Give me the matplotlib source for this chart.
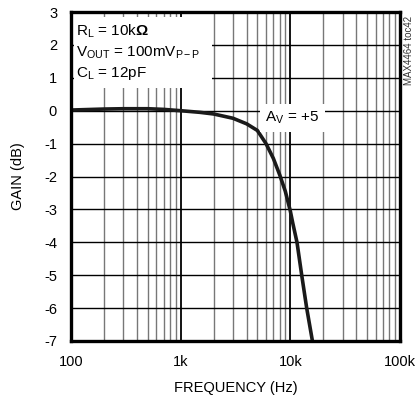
import matplotlib
matplotlib.use("Agg")
import matplotlib.pyplot as plt
import numpy as np

FONT = "Liberation Sans"
plt.rcParams['font.family'] = [FONT, 'DejaVu Sans']
plt.rcParams['mathtext.fontset'] = 'custom'
plt.rcParams['mathtext.rm'] = FONT
plt.rcParams['mathtext.it'] = FONT
plt.rcParams['mathtext.bf'] = FONT + ':bold'
plt.rcParams['axes.unicode_minus'] = False

freq = [100, 200, 300, 500, 700, 1000, 1500, 2000, 3000, 4000, 5000, 6000, 7000, 8000, 9000, 10000, 10500, 11500, 12700, 14100, 15900]
gain = [0.02, 0.05, 0.06, 0.06, 0.04, 0.0, -0.05, -0.1, -0.23, -0.4, -0.6, -1.0, -1.45, -1.95, -2.45, -3.05, -3.4, -4.0, -5.0, -6.0, -7.0]

xticks = [100, 1000, 10000, 100000]
xticklabels = ["100", "1k", "10k", "100k"]
yticks = list(range(-7, 4))

fig = plt.figure(figsize=(4.16, 4.01), dpi=100)
ax = fig.add_axes([71/416, 1-341/401, 329/416, 329/401])
ax.set_xscale('log')
ax.set_xlim(100, 100000)
ax.set_ylim(-7, 3)

# grid
for dec in [100, 1000, 10000]:
    for m in range(2, 10):
        ax.axvline(dec*m, color='#777777', lw=1.0, zorder=1)
for x in [1000, 10000]:
    ax.axvline(x, color='black', lw=1.3, zorder=1)
for y in yticks:
    ax.axhline(y, color='black', lw=1.0, zorder=1)

ax.plot(freq, gain, color='#1a1a1a', lw=2.6, zorder=4, solid_capstyle='butt',
        solid_joinstyle='round')

for s in ax.spines.values():
    s.set_linewidth(2.4)
    s.set_zorder(6)

ax.set_xticks(xticks)
ax.set_xticklabels(xticklabels)
ax.xaxis.set_minor_locator(matplotlib.ticker.NullLocator())
ax.set_yticks(yticks)
ax.tick_params(axis='x', length=0, labelsize=10.5, pad=10)
ax.tick_params(axis='y', length=0, labelsize=10.5, pad=10)
ax.set_xlabel("FREQUENCY (Hz)", fontsize=10.5, labelpad=9)
ax.set_ylabel("GAIN (dB)", fontsize=10.5, labelpad=14)

# white box behind conditions text
ax.add_patch(plt.Rectangle((0.01, 0.77), 0.42, 0.215, transform=ax.transAxes,
                           facecolor='white', edgecolor='none', zorder=2))
ax.text(0.015, 0.942, r"R$_\mathregular{L}$ = 10k$\mathbf{\Omega}$", transform=ax.transAxes,
        fontsize=11, va='center', ha='left', zorder=5)
ax.text(0.015, 0.876, r"V$_\mathregular{OUT}$ = 100mV$_\mathregular{P-P}$", transform=ax.transAxes,
        fontsize=11, va='center', ha='left', zorder=5)
ax.text(0.015, 0.812, r"C$_\mathregular{L}$ = 12pF", transform=ax.transAxes,
        fontsize=11, va='center', ha='left', zorder=5)

ax.text(1.04e4, -0.22, r"A$_\mathregular{V}$ = +5", fontsize=11, ha='center', va='center', zorder=5,
        bbox=dict(facecolor='white', edgecolor='none', pad=4))

fig.text(409/416, 1-50/401, "MAX4464 toc42", rotation=90, fontsize=7,
         ha='center', va='center', color='#333333')

fig.savefig("out.png", dpi=100)
